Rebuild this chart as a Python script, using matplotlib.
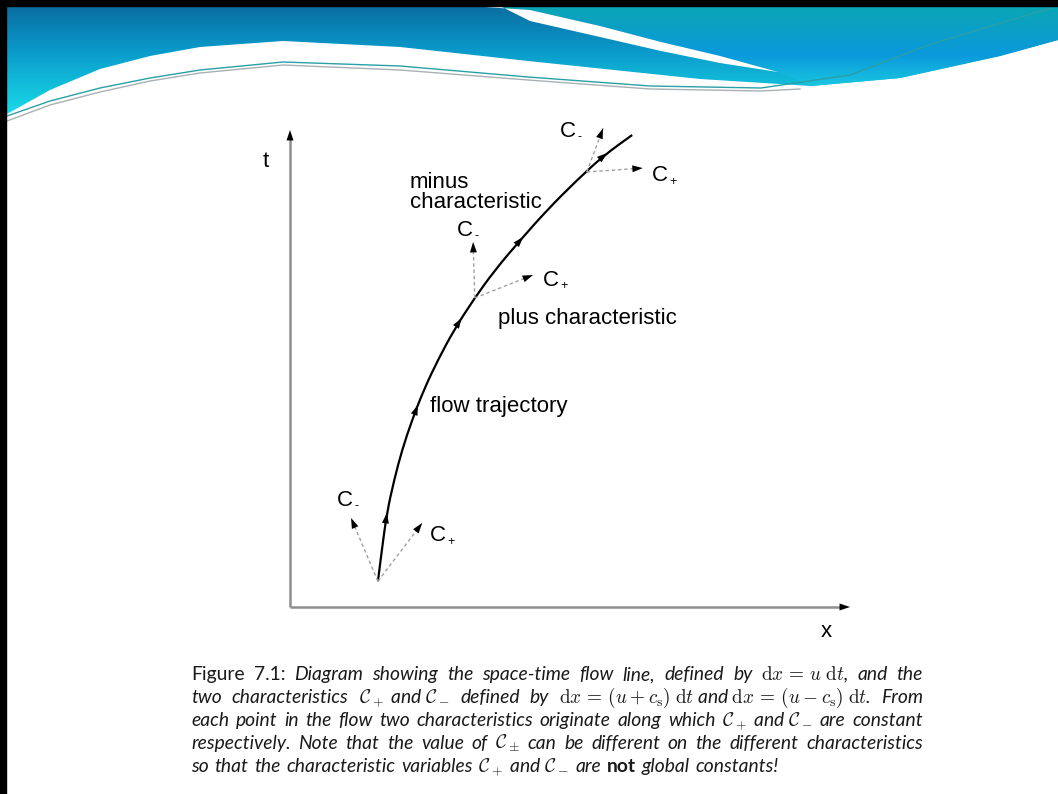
import re
import numpy as np
import matplotlib
matplotlib.use("Agg")
import matplotlib.pyplot as plt
from matplotlib.patches import Polygon, Rectangle, PathPatch
from matplotlib.path import Path

W, H = 1058, 794

# ---- diagram values (x, t units of the drawn axes) ----
traj_x = [1.57, 1.64, 1.73, 1.86, 2.00, 2.18, 2.39, 2.64, 2.93, 3.27, 3.66, 4.11, 4.59, 5.13, 5.61, 6.11]
traj_t = [0.46, 1.02, 1.68, 2.27, 2.80, 3.34, 3.88, 4.41, 4.95, 5.48, 6.02, 6.55, 7.09, 7.63, 8.07, 8.43]
traj_arrow_t = [1.68, 3.61, 5.16, 6.61, 8.11]

char_x0 = [1.57, 3.30, 5.30]
char_t0 = [0.46, 5.52, 7.77]
cminus_x = [1.09, 3.27, 5.59]
cminus_t = [1.59, 6.52, 8.55]
cplus_x = [2.36, 4.34, 6.30]
cplus_t = [1.50, 5.93, 7.84]
cminus_lab_x = [0.84, 2.98, 4.82]
cminus_lab_t = [1.91, 6.73, 8.50]
cplus_lab_x = [2.50, 4.52, 6.46]
cplus_lab_t = [1.27, 5.84, 7.71]

x_max, t_max = 10.0, 8.52

caption = [
    r"^Figure ^7.1: Diagram showing the space-time flow line, defined by $\mathrm{d}x\,=\,u\;\mathrm{d}t$, and the",
    r"two characteristics $\mathcal{C}_+$ and $\mathcal{C}_-$ defined by $\mathrm{d}x\,=\,(u+c_\mathrm{s})\;\mathrm{d}t$ and $\mathrm{d}x\,=\,(u-c_\mathrm{s})\;\mathrm{d}t$. From",
    r"each point in the flow two characteristics originate along which $\mathcal{C}_+$ and $\mathcal{C}_-$ are constant",
    r"respectively. Note that the value of $\mathcal{C}_\pm$ can be different on the different characteristics",
    r"so that the characteristic variables $\mathcal{C}_+$ and $\mathcal{C}_-$ are *not* global constants!",
]
caption_baselines = [680, 703, 726, 749, 772]

# ---- slide banner outline (pixels) ----
bnd_x = [7, 50, 100, 150, 200, 283, 400, 528, 700, 811, 900, 1000, 1058]
bnd_y = [114, 90, 69, 56, 47, 41, 47, 61, 79, 86, 78, 56, 40]
streak_top_x = [470, 530, 600, 661, 720, 778]
streak_top_y = [6, 10, 26, 42, 56, 72]
streak_bot_x = [778, 720, 661, 600, 530, 500]
streak_bot_y = [72, 63, 51, 37, 21, 6]
line1_x = [7, 50, 100, 150, 200, 283, 400, 528, 650, 761, 850, 928, 1051]
line1_y = [116, 101, 88, 78, 70, 62, 66, 77, 86, 88, 75, 45, 8]
line2_x = [7, 50, 100, 150, 200, 283, 400, 528, 650, 761, 800]
line2_y = [121, 105, 92, 81, 73, 65, 70, 80, 89, 91, 89]

fig = plt.figure(figsize=(W / 100, H / 100), dpi=100)
bg = fig.add_axes([0, 0, 1, 1])
bg.set_xlim(0, W)
bg.set_ylim(H, 0)
bg.axis("off")

# banner gradients
yy, xx = np.mgrid[0:130, 0:W].astype(float)
f = np.clip((yy - 6) / 108, 0, 1)[..., None]
c0 = np.array([0.04, 0.43, 0.63])
c1 = np.array([0.04, 0.60, 0.79])
c2 = np.array([0.10, 0.86, 0.91])
left_img = np.where(f < 0.4, c0 + (c1 - c0) * f / 0.4, c1 + (c2 - c1) * (f - 0.4) / 0.6)
g = np.clip((yy - 6) / 80, 0, 1)[..., None]
r0 = np.array([0.04, 0.65, 0.71])
r1 = np.array([0.04, 0.60, 0.86])
r2 = np.array([0.10, 0.78, 0.88])
right_img = np.where(g < 0.6, r0 + (r1 - r0) * g / 0.6, r1 + (r2 - r1) * (g - 0.6) / 0.4)

banner = Polygon(list(zip([7, W], [6, 6])) + list(zip(bnd_x[::-1], bnd_y[::-1])),
                 closed=True, transform=bg.transData, facecolor="none", edgecolor="none")
bg.add_patch(banner)
im = bg.imshow(left_img, extent=[0, W, 130, 0], aspect="auto", zorder=1)
im.set_clip_path(banner)

right_poly = Polygon(list(zip(streak_top_x, streak_top_y)) + [(811, 86)]
                     + list(zip(bnd_x[10:], bnd_y[10:])) + [(W, 6)],
                     closed=True, transform=bg.transData, facecolor="none", edgecolor="none")
bg.add_patch(right_poly)
im2 = bg.imshow(right_img, extent=[0, W, 130, 0], aspect="auto", zorder=2)
im2.set_clip_path(right_poly)

bg.add_patch(Polygon(list(zip(streak_top_x, streak_top_y)) + list(zip(streak_bot_x, streak_bot_y)),
                     closed=True, facecolor="white", edgecolor="none", zorder=3))
bg.plot(line1_x, line1_y, color="#2a9fa6", lw=1.0, zorder=4)
bg.plot(line2_x, line2_y, color="#a9b0b6", lw=1.0, zorder=4)

# black frame on top and left
bg.add_patch(Rectangle((0, 0), W, 6, color="black", zorder=5))
bg.add_patch(Rectangle((0, 0), 6, H, color="black", zorder=5))

# ---- the diagram ----
ax = fig.add_axes([290 / W, (H - 607) / H, 560 / W, 477 / H])
ax.set_xlim(0, x_max)
ax.set_ylim(0, t_max)
ax.axis("off")

head = "-|>,head_length=0.75,head_width=0.25"


def arrow_head(x, t, dx, dt):
    n = np.hypot(dx, dt)
    ax.annotate("", xy=(x, t), xytext=(x - 0.2 * dx / n, t - 0.2 * dt / n),
                arrowprops=dict(arrowstyle=head, color="black", lw=0.01,
                                shrinkA=0, shrinkB=0), annotation_clip=False)


# axes with arrows
ax.plot([0, 0], [0, t_max - 0.15], color="#8f8f8f", lw=1.8, clip_on=False, solid_capstyle="butt")
ax.plot([0, x_max - 0.15], [0, 0], color="#8f8f8f", lw=1.8, clip_on=False, solid_capstyle="butt")
arrow_head(0, t_max, 0, 1)
arrow_head(x_max, 0, 1, 0)
ax.text(-0.43, 7.95, "t", fontsize=16, family="Liberation Sans", ha="center", va="center")
ax.text(9.57, -0.43, "x", fontsize=16, family="Liberation Sans", ha="center", va="center")

# flow trajectory, drawn as a smooth quadratic-bezier path through the read points
pts = list(zip(traj_x, traj_t))
verts, codes = [pts[0]], [Path.MOVETO]
for i in range(1, len(pts) - 1):
    mid = ((pts[i][0] + pts[i + 1][0]) / 2, (pts[i][1] + pts[i + 1][1]) / 2)
    verts += [pts[i], mid]
    codes += [Path.CURVE3, Path.CURVE3]
verts.append(pts[-1])
codes.append(Path.LINETO)
ax.add_patch(PathPatch(Path(verts, codes), facecolor="none", edgecolor="black",
                       lw=1.6, clip_on=False))
for ta in traj_arrow_t:
    xa = np.interp(ta, traj_t, traj_x)
    xb = np.interp(ta - 0.1, traj_t, traj_x)
    arrow_head(xa, ta, xa - xb, 0.1)

# characteristics
for i in range(3):
    for tx, tt in ((cminus_x[i], cminus_t[i]), (cplus_x[i], cplus_t[i])):
        ax.plot([char_x0[i], tx], [char_t0[i], tt], color="#a0a0a0", lw=1.0,
                ls=(0, (2.5, 2)), clip_on=False)
        arrow_head(tx, tt, tx - char_x0[i], tt - char_t0[i])

lab = dict(fontsize=16, family="Liberation Sans", va="center", ha="left")
for i in range(3):
    for lx, lt, sign in ((cminus_lab_x[i], cminus_lab_t[i], "-"),
                         (cplus_lab_x[i], cplus_lab_t[i], "+")):
        ax.text(lx, lt, "C", **lab)
        ax.annotate(sign, xy=(lx, lt), xytext=(12.5, -4.5), textcoords="offset points",
                    fontsize=9, family="Liberation Sans", va="center", ha="left",
                    annotation_clip=False)

ax.text(2.14, 7.40, "minus\ncharacteristic", linespacing=0.92, **lab)
ax.text(3.71, 5.16, "plus characteristic", **lab)
ax.text(2.50, 3.59, "flow trajectory", **lab)

# ---- caption, justified like the LaTeX figure ----
renderer = fig.canvas.get_renderer()
cap_left, cap_right = 191, 923
cap_font = ["Lato", "DejaVu Sans"]


def tokens_of(line):
    out = []
    for tok in re.findall(r"\S*\$[^$]*\$\S*|\S+", line):
        if tok.startswith("^"):
            out.append((tok[1:], "normal", "normal"))
        elif tok.startswith("*") and tok.endswith("*"):
            out.append((tok[1:-1], "normal", "bold"))
        else:
            out.append((tok, "italic", "normal"))
    return out


def measure(toks, size):
    ws = []
    for s, st, wt in toks:
        t = bg.text(0, 0, s, fontsize=size, family=cap_font, style=st, weight=wt,
                    math_fontfamily="cm")
        ws.append(t.get_window_extent(renderer).width)
        t.remove()
    return ws


all_toks = [tokens_of(l) for l in caption]
probe = 10.0
nat = []
for toks in all_toks[:4]:
    ws = measure(toks, probe)
    nat.append(sum(ws) + 0.3 * probe * 100 / 72 * (len(ws) - 1))
size = probe * (cap_right - cap_left) * 0.985 / max(nat)

for k, toks in enumerate(all_toks):
    ws = measure(toks, size)
    if k < len(all_toks) - 1:
        gap = (cap_right - cap_left - sum(ws)) / (len(ws) - 1)
    else:
        gap = 0.3 * size * 100 / 72
    x = cap_left
    for (s, st, wt), w in zip(toks, ws):
        bg.text(x, caption_baselines[k], s, fontsize=size, family=cap_font, style=st,
                weight=wt, math_fontfamily="cm", va="baseline", ha="left", color="#1a1a1a")
        x += w + gap

fig.savefig("out.png", dpi=100)
